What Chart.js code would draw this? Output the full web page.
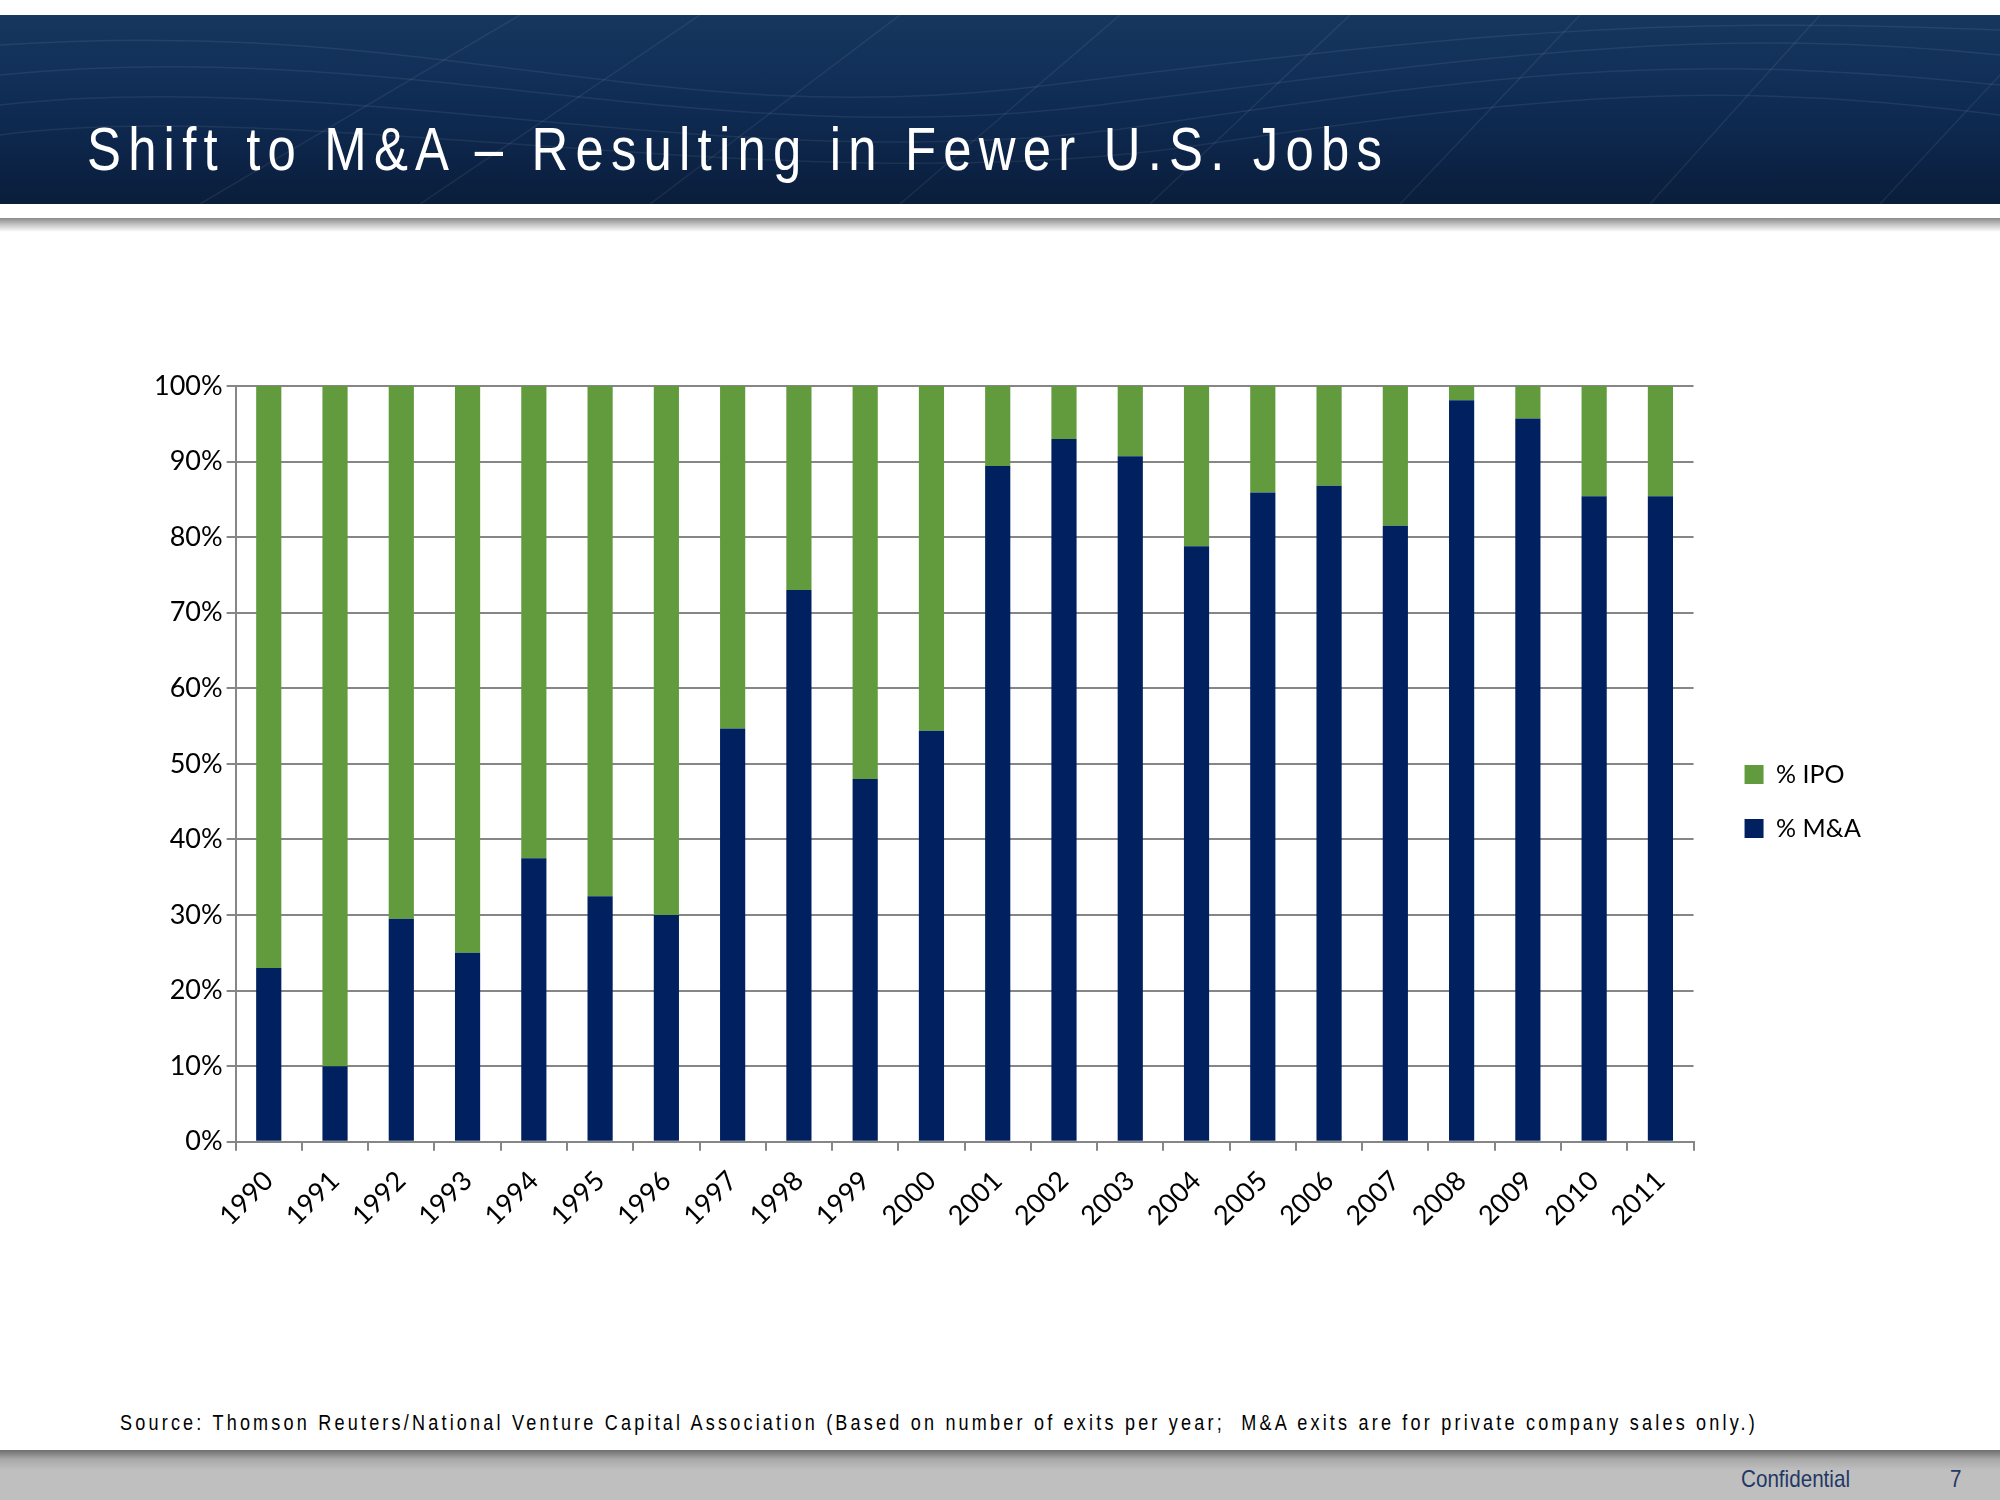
<!DOCTYPE html>
<html>
<head>
<meta charset="utf-8">
<script src="https://cdn.jsdelivr.net/npm/chart.js@4.4.1/dist/chart.umd.min.js"></script>
<style>
  html, body { margin: 0; padding: 0; background: #fff; }
  body { width: 2000px; height: 1500px; position: relative; overflow: hidden; }
  .header {
    position: absolute; left: 0; top: 15px; width: 2000px; height: 189px;
    background: linear-gradient(180deg, #17375f 0%, #0f2c55 45%, #0a1d3b 100%);
    overflow: hidden;
  }
  .header svg { position: absolute; left: 0; top: 0; }
  .header h1 {
    position: absolute; left: 87px; top: 103px; margin: 0;
    font-family: "Liberation Sans Narrow", "Arial Narrow", "Liberation Sans", sans-serif;
    font-weight: normal; font-size: 62px; line-height: 1; letter-spacing: 8.8px;
    color: #fff; white-space: nowrap;
    transform: scaleX(0.82); transform-origin: 0 0;
  }
  .shadow-top {
    position: absolute; left: 0; top: 218px; width: 2000px; height: 14px;
    background: linear-gradient(180deg, #8a8a8a 0%, #c8c8c8 50%, #ffffff 100%);
  }
  #wrap { position: absolute; left: 150px; top: 357px; width: 1731px; height: 889px; }
  .source {
    position: absolute; left: 120px; top: 1410px; margin: 0;
    font-family: "Liberation Sans Narrow", "Arial Narrow", "Liberation Sans", sans-serif;
    font-size: 22px; letter-spacing: 3.9px; color: #000; white-space: nowrap;
    transform: scaleX(0.82); transform-origin: 0 0;
  }
  .footer {
    position: absolute; left: 0; top: 1450px; width: 2000px; height: 50px;
    background: linear-gradient(180deg, #6e6e6e 0%, #a8a8a8 18%, #bfbfbf 40%, #bfbfbf 100%);
  }
  .footer span {
    position: absolute; top: 15px;
    font-family: "Liberation Sans Narrow", "Arial Narrow", "Liberation Sans", sans-serif;
    font-size: 24px; color: #1f3864;
    transform: scaleX(0.86); transform-origin: 0 0;
  }
</style>
</head>
<body>
<div class="header">
  <svg width="2000" height="189" viewBox="0 0 2000 189">
    <g fill="none" stroke="#ffffff" stroke-opacity="0.07" stroke-width="1.5">
      <path d="M0 60 C400 20 700 140 1100 90 S1700 10 2000 40"/>
      <path d="M0 90 C350 50 750 170 1150 110 S1700 40 2000 70"/>
      <path d="M0 120 C300 80 800 190 1200 130 S1750 70 2000 100"/>
      <path d="M0 30 C450 0 650 120 1050 70 S1650 0 2000 15"/>
      <path d="M200 189 L520 0"/>
      <path d="M420 189 L700 0"/>
      <path d="M650 189 L900 0"/>
      <path d="M900 189 L1120 0"/>
      <path d="M1150 189 L1350 0"/>
      <path d="M1400 189 L1580 0"/>
      <path d="M1650 189 L1820 0"/>
      <path d="M1880 189 L2000 60"/>
    </g>
  </svg>
  <h1>Shift to M&amp;A – Resulting in Fewer U.S. Jobs</h1>
</div>
<div class="shadow-top"></div>

<div id="wrap"><canvas id="exitChart"></canvas></div>

<p class="source">Source: Thomson Reuters/National Venture Capital Association (Based on number of exits per year;&nbsp; M&amp;A exits are for private company sales only.)</p>

<div class="footer">
  <span style="left:1741px">Confidential</span>
  <span style="left:1950px">7</span>
</div>

<script>
// ---- data ----
const years = ['1990', '1991', '1992', '1993', '1994', '1995', '1996', '1997', '1998', '1999', '2000',
               '2001', '2002', '2003', '2004', '2005', '2006', '2007', '2008', '2009', '2010', '2011'];
const pctMA  = [23, 10, 29.5, 25, 37.5, 32.5, 30, 54.7, 73, 48, 54.4,
                89.4, 93, 90.7, 78.8, 85.9, 86.8, 81.5, 98.1, 95.7, 85.4, 85.4];
const pctIPO = [77, 90, 70.5, 75, 62.5, 67.5, 70, 45.3, 27, 52, 45.6,
                10.6, 7, 9.3, 21.2, 14.1, 13.2, 18.5, 1.9, 4.3, 14.6, 14.6];
const yTicks = [0, 10, 20, 30, 40, 50, 60, 70, 80, 90, 100];

const navy = '#002060';
const green = '#629B3D';
const axisGray = '#868686';
const tickFont = { family: 'Lato, "Open Sans", sans-serif', size: 27 };

// invisible axis used only to reserve space
function spacer(position, size) {
    return {
        type: 'linear',
        position: position,
        display: true,
        grid: { display: false, drawTicks: false },
        border: { display: false },
        ticks: { display: false },
        afterFit: axis => {
            if (position === 'top') axis.height = size;
            else axis.width = size;
        }
    };
}

document.addEventListener('DOMContentLoaded', function() {
    const ctx = document.getElementById('exitChart');
    new Chart(ctx.getContext('2d'), {
        type: 'bar',
        data: {
            labels: years,
            datasets: [
                { label: '% M&A', data: pctMA, backgroundColor: navy, borderWidth: 0 },
                { label: '% IPO', data: pctIPO, backgroundColor: green, borderWidth: 0 }
            ]
        },
        options: {
            responsive: true,
            maintainAspectRatio: false,
            animation: false,
            datasets: { bar: { barPercentage: 0.38, categoryPercentage: 1.0 } },
            layout: { padding: { top: 0, right: 10 } },
            scales: {
                x: {
                    stacked: true,
                    grid: { offset: true, drawOnChartArea: false, drawTicks: true, tickLength: 9, color: axisGray, lineWidth: 2 },
                    border: { color: axisGray, width: 2 },
                    ticks: { color: '#000', font: tickFont, minRotation: 45, maxRotation: 45, padding: 14 }
                },
                y: {
                    stacked: true,
                    min: 0,
                    max: 100,
                    afterBuildTicks: axis => { axis.ticks = yTicks.map(v => ({ value: v })); },
                    grid: { color: axisGray, lineWidth: 2, tickLength: 9 },
                    border: { color: axisGray, width: 2 },
                    ticks: { color: '#000', font: tickFont, padding: 4, callback: v => v + '%' }
                },
                gap: spacer('right', 22),
                topGap: spacer('top', 29)
            },
            plugins: {
                legend: {
                    position: 'right',
                    reverse: true,
                    labels: {
                        boxWidth: 19,
                        boxHeight: 19,
                        padding: 29,
                        color: '#000',
                        font: { family: 'Lato, "Open Sans", sans-serif', size: 25 }
                    }
                },
                tooltip: { enabled: false }
            }
        }
    });
});
</script>
</body>
</html>
